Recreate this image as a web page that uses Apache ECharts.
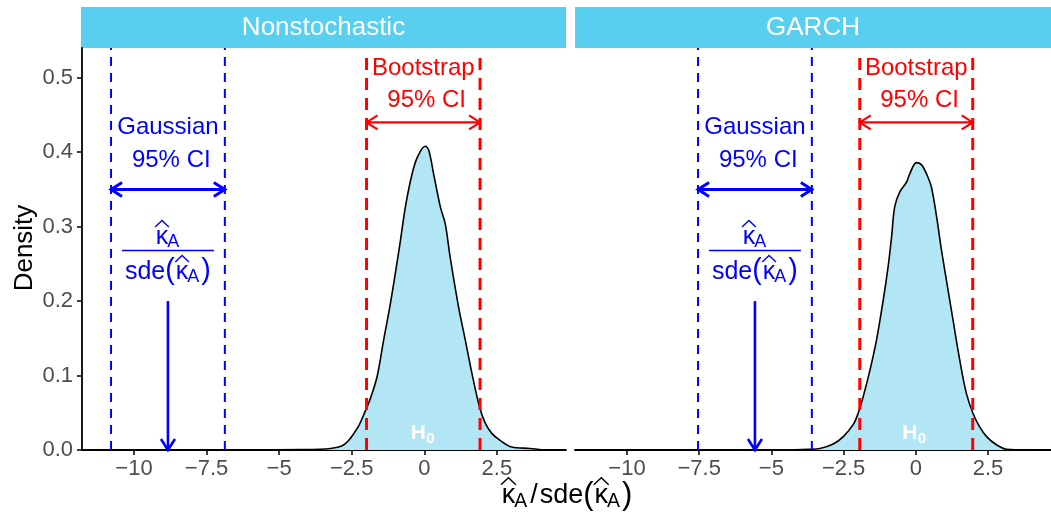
<!DOCTYPE html>
<html>
<head>
<meta charset="utf-8">
<script src="https://cdn.jsdelivr.net/npm/echarts@6/dist/echarts.min.js"></script>
<style>
  html, body { margin: 0; padding: 0; background: #fff; }
  #chart { width: 1051px; height: 516px; }
</style>
</head>
<body>
<div id="chart"></div>
<script>
// data
const panels = ['Nonstochastic', 'GARCH'];
const xTicks = [-10, -7.5, -5, -2.5, 0, 2.5];
const yTicks = [0, 0.1, 0.2, 0.3, 0.4, 0.5];

const nonstochX = [-10.9, -6, -4.2, -3.6, -3.23, -2.95, -2.77, -2.6, -2.43, -2.25, -2.09, -1.86, -1.63, -1.4, -1.19, -1.0, -0.82, -0.65, -0.42, -0.23, 0.03, 0.15, 0.32, 0.55, 0.72, 0.89, 1.18, 1.41, 1.64, 1.9, 2.1, 2.33, 2.61, 3.01, 3.64, 4.1];
const nonstochY = [0, 0, 0.0005, 0.001, 0.002, 0.004, 0.007, 0.013, 0.022, 0.033, 0.047, 0.069, 0.098, 0.148, 0.192, 0.237, 0.282, 0.327, 0.371, 0.394, 0.408, 0.403, 0.371, 0.327, 0.304, 0.259, 0.192, 0.148, 0.103, 0.058, 0.036, 0.022, 0.013, 0.004, 0.002, 0];

const garchX = [-10.9, -6, -4.2, -3.7, -3.32, -2.86, -2.51, -2.17, -2.0, -1.82, -1.59, -1.36, -1.13, -0.96, -0.84, -0.73, -0.55, -0.32, -0.21, 0.02, 0.2, 0.37, 0.54, 0.72, 0.89, 1.06, 1.29, 1.52, 1.75, 1.98, 2.21, 2.45, 2.79, 3.14, 3.6, 4.0];
const garchY = [0, 0, 0.0003, 0.0008, 0.002, 0.008, 0.018, 0.034, 0.049, 0.072, 0.107, 0.148, 0.201, 0.246, 0.286, 0.327, 0.347, 0.36, 0.371, 0.386, 0.383, 0.371, 0.353, 0.313, 0.268, 0.228, 0.174, 0.121, 0.076, 0.049, 0.031, 0.018, 0.007, 0.001, 0.0003, 0];

const gaussCI = [[-10.79, -6.87], [-7.54, -3.60]];
const bootCI = [[-1.99, 1.92], [-1.94, 1.97]];
const estimate = [-8.83, -5.57];

const FONT = '"Liberation Sans", Arial, sans-serif';
const BLUE = '#0000ff';
const RED = '#ff0000';
const Y_MAX = 0.54;
const X_RANGE = [[-11.79, 4.88], [-11.8, 4.68]];
const GRIDS = [{ left: 82, width: 484 }, { left: 575, width: 476 }];

const mctx = document.createElement('canvas').getContext('2d');
function textW(t, size, weight) {
  mctx.font = (weight ? weight + ' ' : '') + size + 'px ' + FONT;
  return mctx.measureText(t).width;
}
function txt(t, x, y, size, color, align, weight) {
  return {
    type: 'text', x: x, y: y,
    style: { text: t, fill: color, font: (weight ? weight + ' ' : '') + size + 'px ' + FONT, align: align || 'left', verticalAlign: 'middle' }
  };
}
// kappa hat with subscript A; x = left edge, y = middle of the line
function kappaHat(x, y, size, color) {
  const kw = textW('κ', size), sub = size * 0.72, aw = textW('A', sub);
  return {
    w: kw + aw,
    els: [
      txt('κ', x, y, size, color),
      txt('A', x + kw - 1, y + size * 0.2, sub, color),
      {
        type: 'polyline',
        shape: { points: [[x - kw * 0.05, y - size * 0.42], [x + kw * 0.5, y - size * 0.68], [x + kw * 1.05, y - size * 0.42]] },
        style: { stroke: color, lineWidth: 1.4, fill: null }
      }
    ]
  };
}
// "sde(kappa_hat_A)" with tall brackets
function sdeKappa(x, y, size, color) {
  const els = [];
  const w1 = textW('sde', size);
  els.push(txt('sde', x, y, size, color));
  const ps = size * 1.15;
  const pw = textW('(', ps);
  els.push(txt('(', x + w1, y - 1, ps, color));
  const k = kappaHat(x + w1 + pw + 1, y, size, color);
  els.push(...k.els);
  els.push(txt(')', x + w1 + pw + 2 + k.w, y - 1, ps, color));
  return { w: w1 + pw * 2 + 2 + k.w, els: els };
}
function line(a, b, color, width, dash) {
  return {
    type: 'line',
    shape: { x1: a[0], y1: a[1], x2: b[0], y2: b[1] },
    style: { stroke: color, lineWidth: width, lineDash: dash || null }
  };
}
function chevron(tip, dx, dy, color, width) {
  // open arrow head; (dx, dy) points from tip back along the shaft
  const nx = -dy, ny = dx;
  return {
    type: 'polyline',
    shape: { points: [[tip[0] + dx * 11 + nx * 7, tip[1] + dy * 11 + ny * 7], tip, [tip[0] + dx * 11 - nx * 7, tip[1] + dy * 11 - ny * 7]] },
    style: { stroke: color, lineWidth: width, fill: null }
  };
}

function annotations(p) {
  return function (params, api) {
    const c = (x, y) => api.coord([x, y]);
    const [gLo, gHi] = gaussCI[p];
    const [bLo, bHi] = bootCI[p];
    const gMid = (gLo + gHi) / 2, bMid = (bLo + bHi) / 2;
    const els = [];
    [gLo, gHi].forEach(x => els.push(line(c(x, 0), c(x, Y_MAX), BLUE, 2, [9, 7])));
    [bLo, bHi].forEach(x => els.push(line(c(x, 0), c(x, 0.527), RED, 3, [12, 8])));

    // Gaussian CI arrow
    const ga = c(gLo, 0.35), gb = c(gHi, 0.35);
    els.push(line(ga, gb, BLUE, 3), chevron(ga, 1, 0, BLUE, 3), chevron(gb, -1, 0, BLUE, 3));
    // Bootstrap CI arrow
    const ba = c(bLo, 0.44), bb = c(bHi, 0.44);
    els.push(line(ba, bb, RED, 2.2), chevron(ba, 1, 0, RED, 2.2), chevron(bb, -1, 0, RED, 2.2));
    // estimate arrow
    const et = c(estimate[p], 0.2), eb = c(estimate[p], 0);
    els.push(line(et, eb, BLUE, 2.6), chevron(eb, 0, -1, BLUE, 2.6));

    // labels
    let pt = c(gMid, 0.434);
    els.push(txt('Gaussian', pt[0], pt[1], 24, BLUE, 'center'));
    pt = c(gMid, 0.389);
    els.push(txt(' 95% CI', pt[0], pt[1], 24, BLUE, 'center'));
    pt = c(bMid, 0.513);
    els.push(txt('Bootstrap', pt[0], pt[1], 24, RED, 'center'));
    pt = c(bMid, 0.47);
    els.push(txt(' 95% CI', pt[0], pt[1], 24, RED, 'center'));

    // fraction
    const fc = c(gMid, 0.268);
    els.push(line([fc[0] - 46, fc[1]], [fc[0] + 46, fc[1]], BLUE, 1.5));
    const num = kappaHat(0, 0, 25, BLUE);
    els.push(...kappaHat(fc[0] - num.w / 2, fc[1] - 13, 25, BLUE).els);
    const den = sdeKappa(0, 0, 25, BLUE);
    els.push(...sdeKappa(fc[0] - den.w / 2, fc[1] + 22, 25, BLUE).els);

    // H0
    const h = c(0, 0.022);
    els.push(txt('H', h[0] - 6, h[1], 21, '#fff', 'center', 'bold'));
    els.push(txt('0', h[0] + 6, h[1] + 5, 15, '#fff', 'center', 'bold'));
    return { type: 'group', children: els };
  };
}

function xTitle() {
  const size = 27, y = 496;
  const k1 = kappaHat(0, 0, size, '#000');
  const slashW = textW('/', size) + 4;
  const d = sdeKappa(0, 0, size, '#000');
  const total = k1.w + slashW + d.w;
  let x = 567 - total / 2;
  const els = [];
  els.push(...kappaHat(x, y, size, '#000').els);
  x += k1.w;
  els.push(txt('/', x + 2, y, size, '#000'));
  x += slashW;
  els.push(...sdeKappa(x, y, size, '#000').els);
  return els;
}

const chart = echarts.init(document.getElementById('chart'));
const series = [];
[[nonstochX, nonstochY], [garchX, garchY]].forEach(([xs, ys], i) => {
  series.push({
    type: 'line', xAxisIndex: i, yAxisIndex: i,
    data: xs.map((x, j) => [x, ys[j]]),
    smooth: 0.35, symbol: 'none', z: 2,
    lineStyle: { color: '#000', width: 1.6 },
    areaStyle: { color: '#b3e6f4', opacity: 1 }
  });
  series.push({
    type: 'custom', xAxisIndex: i, yAxisIndex: i, z: 4,
    data: [[0, 0]],
    renderItem: annotations(i),
    silent: true
  });
});

chart.setOption({
  animation: false,
  grid: GRIDS.map(g => ({ left: g.left, width: g.width, top: 48, height: 402 })),
  xAxis: [0, 1].map(i => ({
    gridIndex: i, type: 'value', min: X_RANGE[i][0], max: X_RANGE[i][1],
    axisLine: { onZero: false, lineStyle: { color: '#000', width: 1.8 } },
    axisTick: { customValues: xTicks, length: 5, lineStyle: { color: '#000', width: 1.5 } },
    axisLabel: {
      customValues: xTicks, color: '#4d4d4d', fontSize: 22, fontFamily: FONT, margin: 8,
      formatter: v => String(v).replace('-', '\u2212')
    },
    splitLine: { show: false }
  })),
  yAxis: [
    {
      gridIndex: 0, type: 'value', min: 0, max: Y_MAX,
      axisLine: { show: true, onZero: false, lineStyle: { color: '#000', width: 1.8 } },
      axisTick: { show: true, customValues: yTicks, length: 5, lineStyle: { color: '#000', width: 1.5 } },
      axisLabel: { customValues: yTicks, color: '#4d4d4d', fontSize: 22, fontFamily: FONT, margin: 9, formatter: v => v.toFixed(1) },
      splitLine: { show: false }
    },
    {
      gridIndex: 1, type: 'value', min: 0, max: Y_MAX,
      axisLine: { show: false, onZero: false }, axisTick: { show: false }, axisLabel: { show: false },
      splitLine: { show: false }
    }
  ],
  graphic: [
    { type: 'rect', shape: { x: 81, y: 7, width: 485, height: 41 }, style: { fill: '#58cfee' } },
    { type: 'rect', shape: { x: 575, y: 7, width: 476, height: 41 }, style: { fill: '#58cfee' } },
    txt(panels[0], 81 + 485 / 2, 28, 26, '#fff', 'center'),
    txt(panels[1], 575 + 476 / 2, 28, 26, '#fff', 'center'),
    Object.assign(txt('Density', 25, 248, 26, '#000', 'center'), { rotation: Math.PI / 2 }),
    ...xTitle()
  ],
  series: series
});
</script>
</body>
</html>
